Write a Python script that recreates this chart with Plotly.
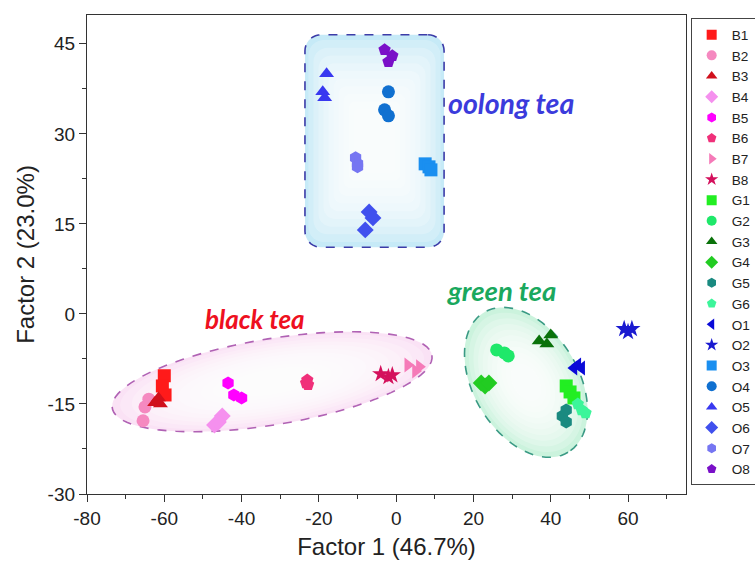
import numpy as np
import plotly.graph_objects as go

# ---------------- data ----------------
names = ["B1", "B2", "B3", "B4", "B5", "B6", "B7", "B8",
         "G1", "G2", "G3", "G4", "G5", "G6",
         "O1", "O2", "O3", "O4", "O5", "O6", "O7", "O8"]
symbols = ["square", "circle", "triangle-up", "diamond", "hexagon", "pentagon", "triangle-right", "star",
           "square", "circle", "triangle-up", "diamond", "hexagon", "pentagon",
           "triangle-left", "star", "square", "circle", "triangle-up", "diamond", "hexagon", "pentagon"]
colors = ["#ff1a1a", "#f589c0", "#d0101c", "#f590ee", "#ff00ff", "#f0307a", "#f57ab8", "#d4105c",
          "#22ee22", "#1fe86a", "#0a720a", "#22cc22", "#1a8a80", "#3cf59a",
          "#0a0ad8", "#1a1ad0", "#1a8ff0", "#1070d0", "#3838f0", "#4050ee", "#7676f2", "#7a10c8"]

x_black = [[-60, -60.5, -59.8], [-64, -65, -65.5], [-62.5, -61.5, -61], [-47, -45, -46],
           [-43.5, -42, -40], [-23, -23.3, -22.8], [3, 5, 6], [-4, -2, -1]]
y_black = [[-10.3, -12, -13.5], [-14.2, -15.5, -17.8], [-14.8, -14, -15], [-18.5, -17, -18],
           [-11.5, -13.5, -14], [-11, -11.5, -11.8], [-8.5, -9.5, -8.8], [-10, -10.5, -10.2]]
x_green = [[44, 45, 46], [26, 28, 29], [37, 40, 39], [22, 23, 24], [43, 44, 44], [47, 48, 49]]
y_green = [[-12, -13, -14], [-6, -6.5, -7], [-4.5, -3.5, -5], [-11.5, -12, -11.5],
           [-17, -16, -18], [-15, -16, -16.5]]
x_oolong = [[46, 47, 48], [59, 60, 61], [7.5, 8.5, 9], [-2, -3, -2], [-18, -19, -18.5],
            [-7, -6, -8], [-10.5, -10, -10], [-3, -1, -2]]
y_oolong = [[-9, -8.5, -9], [-2.5, -3, -2.5], [25, 24.5, 24], [37, 34, 33], [40, 37, 36],
            [17, 16, 14], [26, 25, 24.5], [44, 43, 42]]

x_ticks = [-80, -60, -40, -20, 0, 20, 40, 60]
x_ticktext = ["-80", "-60", "-40", "-20", "0", "20", "40", "60"]
y_ticks = [-30, -15, 0, 15, 30, 45]
y_ticktext = ["-30", "-15", "0", "15", "30", "45"]

# ---------------- layout geometry ----------------
W, H = 755, 570
ML, MR, MT, MB = 87, 69, 15, 76
XR = [-80, 75]
YR = [-30, 49.8]
PX_X = (W - ML - MR) / (XR[1] - XR[0])
PX_Y = (H - MT - MB) / (YR[1] - YR[0])

all_x = x_black + x_green + x_oolong
all_y = y_black + y_green + y_oolong

fig = go.Figure()
for i, nm in enumerate(names):
    fig.add_trace(go.Scatter(
        x=all_x[i], y=all_y[i], mode="markers", name=nm, legendgroup=nm, showlegend=False,
        marker=dict(symbol=symbols[i], color=colors[i], size=13, line=dict(width=0)),
    ))
    # legend entry (smaller symbol, as in the original legend)
    fig.add_trace(go.Scatter(
        x=[None], y=[None], mode="markers", name=nm, legendgroup=nm, showlegend=True,
        marker=dict(symbol=symbols[i], color=colors[i], size=10, line=dict(width=0)),
    ))


def ellipse_path(cx, cy, a, b, ang_deg, scale=1.0):
    t = np.linspace(0, 2 * np.pi, 90)
    th = np.radians(ang_deg)
    a *= scale
    b *= scale
    dx = a * np.cos(th) * np.cos(t) - b * np.sin(th) * np.sin(t)
    dy = a * np.sin(th) * np.cos(t) + b * np.cos(th) * np.sin(t)
    xs = cx + dx / PX_X
    ys = cy - dy / PX_Y
    return "M " + " L ".join(f"{x:.3f},{y:.3f}" for x, y in zip(xs, ys)) + " Z"


def rrect_path(x0, x1, y0, y1, r_px, shrink=0.0):
    cxp = (x0 + x1) / 2
    cyp = (y0 + y1) / 2
    wpx = (x1 - x0) * PX_X * (1 - shrink)
    hpx = (y1 - y0) * PX_Y * (1 - shrink)
    r = r_px * (1 - shrink)
    pts = []
    corners = [(wpx / 2 - r, -hpx / 2 + r, -90, 0), (wpx / 2 - r, hpx / 2 - r, 0, 90),
               (-wpx / 2 + r, hpx / 2 - r, 90, 180), (-wpx / 2 + r, -hpx / 2 + r, 180, 270)]
    for ccx, ccy, a0, a1 in corners:
        for a in np.linspace(np.radians(a0), np.radians(a1), 10):
            pts.append((ccx + r * np.cos(a), ccy + r * np.sin(a)))
    return "M " + " L ".join(f"{cxp + px / PX_X:.3f},{cyp - py / PX_Y:.3f}" for px, py in pts) + " Z"


shapes = []
# black tea ellipse
BLK = (-32.1, -11.3, 162, 43, -9.4)
shapes.append(dict(type="path", path=ellipse_path(*BLK), fillcolor="#fae2f5", line=dict(width=0), layer="below"))
for s in np.linspace(0.95, 0.3, 10):
    shapes.append(dict(type="path", path=ellipse_path(*BLK, scale=s), fillcolor="rgba(255,255,255,0.22)",
                       line=dict(width=0), layer="below"))
shapes.append(dict(type="path", path=ellipse_path(*BLK), fillcolor="rgba(0,0,0,0)",
                   line=dict(color="#b062b4", width=1.6, dash="dash"), layer="below"))

# green tea ellipse
GRN = (33.6, -11.4, 81.6, 52.4, 59)
shapes.append(dict(type="path", path=ellipse_path(*GRN), fillcolor="#cbf3dd", line=dict(width=0), layer="below"))
for s in np.linspace(0.93, 0.25, 10):
    shapes.append(dict(type="path", path=ellipse_path(*GRN, scale=s), fillcolor="rgba(255,255,255,0.22)",
                       line=dict(width=0), layer="below"))
shapes.append(dict(type="path", path=ellipse_path(*GRN), fillcolor="rgba(0,0,0,0)",
                   line=dict(color="#3a9a84", width=1.6, dash="dash"), layer="below"))

# oolong tea rounded rectangle
OOL = (-23.6, 12.4, 11.1, 46.5, 16)
shapes.append(dict(type="path", path=rrect_path(*OOL), fillcolor="#c6eaf7", line=dict(width=0), layer="below"))
for s in np.linspace(0.05, 0.7, 10):
    shapes.append(dict(type="path", path=rrect_path(*OOL, shrink=s), fillcolor="rgba(255,255,255,0.22)",
                       line=dict(width=0), layer="below"))
shapes.append(dict(type="path", path=rrect_path(*OOL), fillcolor="rgba(0,0,0,0)",
                   line=dict(color="#3c3ca8", width=1.6, dash="dash"), layer="below"))

lab_font = dict(family="Lato", weight="bold", style="italic")
annotations = [
    dict(x=-36.5, y=-0.9, text="black tea", showarrow=False, font=dict(lab_font, size=26, color="#ee1020")),
    dict(x=27.3, y=3.9, text="green tea", showarrow=False, font=dict(lab_font, size=27.5, color="#1aa85e")),
    dict(x=29.6, y=35.2, text="oolong tea", showarrow=False, font=dict(lab_font, size=28.5, color="#3b3bdc")),
]

axis_common = dict(showline=True, linecolor="#333", linewidth=1.3, mirror=True, ticks="outside",
                   ticklen=7, tickwidth=1.3, tickcolor="#333", showgrid=False, zeroline=False,
                   tickfont=dict(family="Liberation Sans, Arial", size=19, color="#222"))

fig.update_layout(
    width=W, height=H,
    margin=dict(l=ML, r=MR, t=MT, b=MB, autoexpand=False),
    plot_bgcolor="white", paper_bgcolor="white",
    shapes=shapes, annotations=annotations,
    xaxis=dict(axis_common, range=XR, tickvals=x_ticks, ticktext=x_ticktext,
               minor=dict(ticks="outside", ticklen=4, tickwidth=1.3, tickcolor="#333", dtick=10, tick0=0),
               title=dict(text="Factor 1 (46.7%)", font=dict(family="Liberation Sans, Arial", size=24, color="#222"),
                          standoff=10)),
    yaxis=dict(axis_common, range=YR, tickvals=y_ticks, ticktext=y_ticktext,
               minor=dict(ticks="outside", ticklen=4, tickwidth=1.3, tickcolor="#333", dtick=7.5, tick0=0),
               title=dict(text="Factor 2 (23.0%)", font=dict(family="Liberation Sans, Arial", size=24, color="#222"),
                          standoff=6)),
    legend=dict(x=1.0078, y=0.993, xanchor="left", yanchor="top", bordercolor="#444", borderwidth=1,
                font=dict(family="Liberation Sans, Arial", size=13.6, color="#222"), tracegroupgap=0,
                bgcolor="white"),
    showlegend=True,
)

fig.write_html("out.html")
